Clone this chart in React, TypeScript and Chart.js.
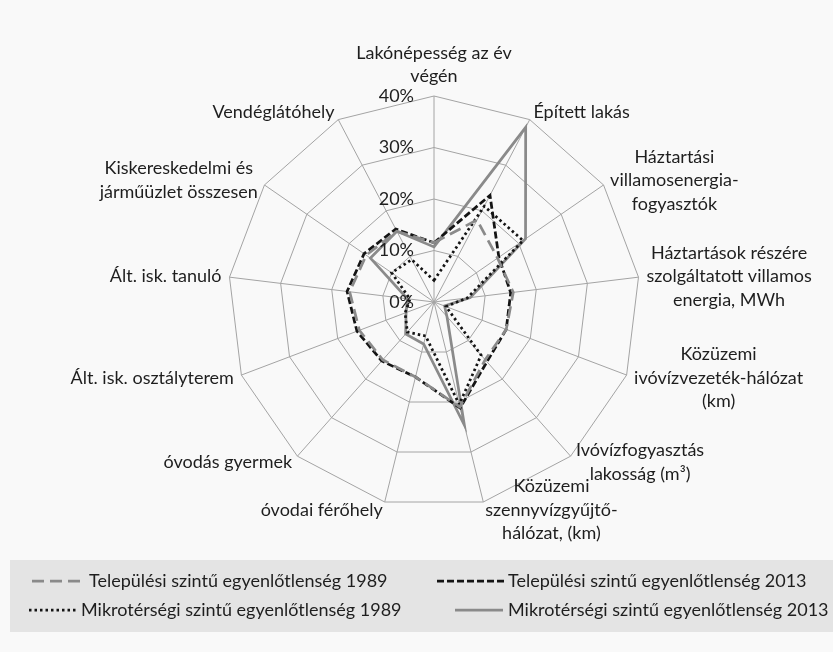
import React, { useEffect, useRef } from "react";
import { Chart, registerables } from "chart.js";

Chart.register(...registerables);

// ---- data ----
const categories: (string | string[])[] = [
  ["Lakónépesség az év", "végén"],
  "Épített lakás",
  ["Háztartási", "villamosenergia-", "fogyasztók"],
  ["Háztartások részére", "szolgáltatott villamos", "energia, MWh"],
  ["Közüzemi", "ivóvízvezeték-hálózat", "(km)"],
  ["Ivóvízfogyasztás", "lakosság (m³)"],
  ["Közüzemi", "szennyvízgyűjtő-", "hálózat, (km)"],
  "óvodai férőhely",
  "óvodás gyermek",
  "Ált. isk. osztályterem",
  "Ált. isk. tanuló",
  ["Kiskereskedelmi és", "járműüzlet összesen"],
  "Vendéglátóhely",
];

const seriesNames = [
  "Települési szintű egyenlőtlenség 1989",
  "Települési szintű egyenlőtlenség 2013",
  "Mikrotérségi szintű egyenlőtlenség 1989",
  "Mikrotérségi szintű egyenlőtlenség 2013",
];

const telepulesi1989 = [11.5, 18, 15, 15.5, 15, 15, 21, 15, 15, 15.5, 16.5, 16, 15.5];
const telepulesi2013 = [11.5, 23.4, 15.3, 15, 15, 15.5, 21.2, 15, 15.3, 16, 17, 16.5, 16];
const mikro1989 = [4.2, 21, 21, 6.5, 2.5, 13.8, 20.5, 6.8, 7.8, 6, 4.7, 10, 9.3];
const mikro2013 = [10.7, 38.3, 21.6, 7.1, 2.2, 3.8, 24.6, 8.4, 8.3, 5.8, 5.2, 15, 15.5];

const scaleMin = 0;
const scaleMax = 40;
const scaleStep = 10;

// ---- styles ----
const FONT_FAMILY = 'Lato, "Liberation Sans", sans-serif';
const FONT_SIZE = 18;
const TEXT_COLOR = "#1e1e1e";
const GRID_COLOR = "#a4a4a4";
const GRAY = "#8a8a8a";
const BLACK = "#141414";

const seriesStyles = [
  { color: GRAY, dash: [12, 6], width: 2.75 },
  { color: BLACK, dash: [7, 3], width: 2.75 },
  { color: BLACK, dash: [2.5, 3], width: 2.75 },
  { color: GRAY, dash: [] as number[], width: 2.75 },
];

const legendLayout = [
  { row: 0, x0: 32, x1: 86, tx: 89 },
  { row: 0, x0: 437, x1: 505, tx: 508 },
  { row: 1, x0: 29, x1: 76, tx: 81 },
  { row: 1, x0: 455, x1: 503, tx: 508 },
];
const legendRows = [581, 610];
const legendBox = { x: 10, y: 560, h: 72 };

const bgPlugin = {
  id: "bgPlugin",
  beforeDraw(chart: any) {
    const ctx = chart.ctx;
    ctx.save();
    ctx.fillStyle = "#f9f9f9";
    ctx.fillRect(0, 0, chart.width, chart.height);
    ctx.fillStyle = "#e4e4e4";
    ctx.fillRect(legendBox.x, legendBox.y, chart.width - legendBox.x, legendBox.h);
    ctx.restore();
  },
};

const labelPlugin = {
  id: "labelPlugin",
  afterDraw(chart: any) {
    const scale = chart.scales.r;
    const ctx = chart.ctx;
    ctx.save();
    ctx.font = `${FONT_SIZE}px ${FONT_FAMILY}`;
    ctx.fillStyle = TEXT_COLOR;
    ctx.textBaseline = "middle";

    // point labels
    const lineH = 23.5;
    (chart.data.labels as (string | string[])[]).forEach((lab, i) => {
      const lines = Array.isArray(lab) ? lab : [lab];
      const p = scale.getPointPosition(i, scale.drawingArea + 8);
      const bw = Math.max(...lines.map((l) => ctx.measureText(l).width));
      const bh = lines.length * lineH;
      const dx = p.x - scale.xCenter;
      let left: number;
      let top: number;
      if (Math.abs(dx) < 1) {
        left = p.x - bw / 2;
        top = p.y - bh;
      } else if (dx > 0) {
        left = p.x;
        top = p.y - bh / 2;
      } else {
        left = p.x - bw;
        top = p.y - bh / 2;
      }
      ctx.textAlign = "center";
      lines.forEach((l, j) => ctx.fillText(l, left + bw / 2, top + lineH * (j + 0.5)));
    });

    // tick labels
    ctx.textAlign = "right";
    scale.ticks.forEach((t: any) => {
      const d = scale.getDistanceFromCenterForValue(t.value);
      ctx.fillText(`${t.value}%`, scale.xCenter - 20, scale.yCenter - d);
    });

    // legend
    chart.data.datasets.forEach((ds: any, i: number) => {
      const lay = legendLayout[i];
      const y = legendRows[lay.row];
      ctx.save();
      ctx.strokeStyle = ds.borderColor;
      ctx.lineWidth = ds.borderWidth;
      ctx.setLineDash(ds.borderDash || []);
      ctx.beginPath();
      ctx.moveTo(lay.x0, y);
      ctx.lineTo(lay.x1, y);
      ctx.stroke();
      ctx.restore();
      ctx.textAlign = "left";
      ctx.fillText(ds.label, lay.tx, y);
    });
    ctx.restore();
  },
};

export default function App() {
  const ref = useRef<HTMLCanvasElement | null>(null);

  useEffect(() => {
    document.body.style.margin = "0";
    document.body.style.background = "#f9f9f9";
    if (!ref.current) return;
    const allSeries = [telepulesi1989, telepulesi2013, mikro1989, mikro2013];
    const chart = new Chart(ref.current, {
      type: "radar",
      data: {
        labels: categories,
        datasets: allSeries.map((values, i) => ({
          label: seriesNames[i],
          data: values,
          borderColor: seriesStyles[i].color,
          borderDash: seriesStyles[i].dash,
          borderWidth: seriesStyles[i].width,
          backgroundColor: "transparent",
          fill: false,
          pointRadius: 0,
          pointHoverRadius: 0,
          tension: 0,
        })),
      },
      options: {
        responsive: false,
        animation: false,
        layout: { padding: { left: 228, top: 96, right: 193, bottom: 144 } },
        plugins: { legend: { display: false }, tooltip: { enabled: false } },
        scales: {
          r: {
            min: scaleMin,
            max: scaleMax,
            ticks: { stepSize: scaleStep, display: false },
            grid: { color: GRID_COLOR, lineWidth: 1 },
            angleLines: { color: GRID_COLOR, lineWidth: 1 },
            pointLabels: { display: false },
          },
        },
      },
      plugins: [bgPlugin, labelPlugin],
    });
    return () => chart.destroy();
  }, []);

  return <canvas ref={ref} width={833} height={652} style={{ display: "block" }} />;
}
